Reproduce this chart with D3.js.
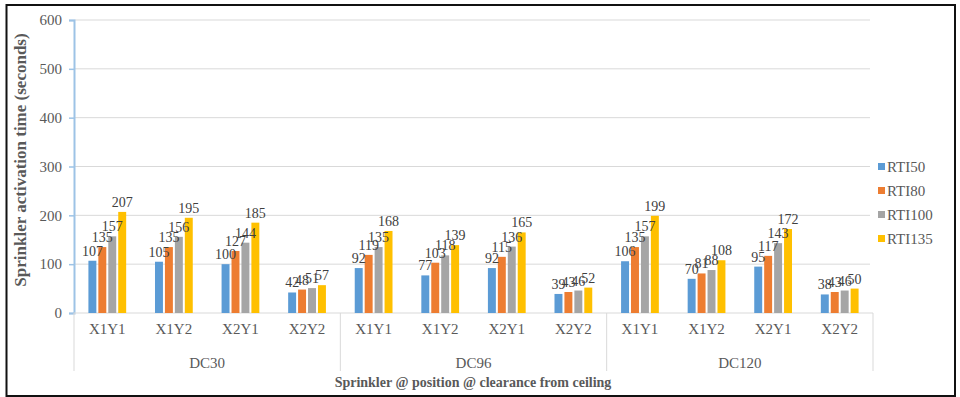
<!DOCTYPE html>
<html>
<head>
<meta charset="utf-8">
<script src="https://cdn.jsdelivr.net/npm/d3@7"></script>
<style>
  html, body { margin: 0; padding: 0; background: #fff; }
  svg { display: block; }
</style>
</head>
<body>
<svg id="chart" width="960" height="397"></svg>
<script>
// Sprinkler activation times grouped by ceiling clearance and sprinkler position
const groups = ["DC30", "DC96", "DC120"];
const positions = ["X1Y1", "X1Y2", "X2Y1", "X2Y2"];
const seriesNames = ["RTI50", "RTI80", "RTI100", "RTI135"];
const seriesColors = ["#5b9bd5", "#ed7d31", "#a5a5a5", "#ffc000"];

// values per series, ordered DC30 (X1Y1..X2Y2), DC96 (...), DC120 (...)
const rti50  = [107, 105, 100, 42,  92,  77,  92, 39, 106,  70,  95, 38];
const rti80  = [135, 135, 127, 48, 119, 103, 115, 43, 135,  81, 117, 43];
const rti100 = [157, 156, 144, 51, 135, 118, 136, 46, 157,  88, 143, 46];
const rti135 = [207, 195, 185, 57, 168, 139, 165, 52, 199, 108, 172, 50];
const yTicks = [0, 100, 200, 300, 400, 500, 600];

const FONT = "'Liberation Serif', 'DejaVu Serif', serif";

const seriesValues = [rti50, rti80, rti100, rti135];
const categories = [];
groups.forEach(g => positions.forEach(p => categories.push(g + "|" + p)));

const svg = d3.select("#chart");

// outer frame
svg.append("rect")
  .attr("x", 6.5).attr("y", 5).attr("width", 948.5).attr("height", 391)
  .attr("fill", "#fff").attr("stroke", "#111").attr("stroke-width", 2);

const plotLeft = 74, plotRight = 873, plotTop = 20, plotBottom = 313;

const x = d3.scaleBand().domain(categories).range([plotLeft, plotRight]).paddingInner(0).paddingOuter(0);
const y = d3.scaleLinear().domain([0, 600]).range([plotBottom, plotTop]);
const inner = d3.scaleBand().domain(seriesNames).range([0, x.bandwidth()]).paddingOuter(1.45).paddingInner(0.2);

// horizontal gridlines
svg.append("g").selectAll("line").data(yTicks.filter(t => t > 0)).join("line")
  .attr("x1", plotLeft).attr("x2", plotRight - 3)
  .attr("y1", d => y(d)).attr("y2", d => y(d))
  .attr("stroke", "#d9d9d9").attr("stroke-width", 1);

// y axis
const yAxis = d3.axisLeft(y).tickValues(yTicks).tickSize(5).tickPadding(7);
const yg = svg.append("g").attr("transform", `translate(${plotLeft},0)`).call(yAxis);
yg.attr("font-family", FONT).attr("font-size", 15);
yg.select(".domain").attr("stroke", "#9dc3e6").attr("stroke-width", 2);
yg.selectAll(".tick line").attr("stroke", "#9dc3e6").attr("stroke-width", 1.5);
yg.selectAll(".tick text")
  .style("font-family", FONT)
  .attr("font-size", 15).attr("fill", "#595959");

// x axis base line
svg.append("line")
  .attr("x1", plotLeft).attr("x2", plotRight).attr("y1", plotBottom).attr("y2", plotBottom)
  .attr("stroke", "#d9d9d9");

// group separators
const groupEdges = [0, 4, 8].map(i => x(categories[i])).concat([plotRight]);
svg.append("g").selectAll("line").data(groupEdges).join("line")
  .attr("x1", d => d).attr("x2", d => d)
  .attr("y1", plotBottom).attr("y2", 371)
  .attr("stroke", "#d9d9d9");

// bars
const barG = svg.append("g");
seriesValues.forEach((vals, si) => {
  barG.append("g").selectAll("rect").data(vals).join("rect")
    .attr("x", (d, i) => x(categories[i]) + inner(seriesNames[si]))
    .attr("y", d => y(d))
    .attr("width", inner.bandwidth())
    .attr("height", d => plotBottom - y(d))
    .attr("fill", seriesColors[si]);
});

// value labels
seriesValues.forEach((vals, si) => {
  barG.append("g").selectAll("text").data(vals).join("text")
    .attr("x", (d, i) => x(categories[i]) + inner(seriesNames[si]) + inner.bandwidth() / 2)
    .attr("y", d => y(d) - 5)
    .attr("text-anchor", "middle")
    .style("font-family", FONT)
    .attr("font-size", 14)
    .attr("fill", "#404040")
    .text(d => d);
});

// category labels
svg.append("g").selectAll("text").data(categories).join("text")
  .attr("x", d => x(d) + x.bandwidth() / 2)
  .attr("y", 334)
  .attr("text-anchor", "middle")
  .style("font-family", FONT)
  .attr("font-size", 15)
  .attr("fill", "#595959")
  .text(d => d.split("|")[1]);

// group labels
svg.append("g").selectAll("text").data(groups).join("text")
  .attr("x", (d, i) => (groupEdges[i] + groupEdges[i + 1]) / 2)
  .attr("y", 368)
  .attr("text-anchor", "middle")
  .style("font-family", FONT)
  .attr("font-size", 15)
  .attr("fill", "#595959")
  .text(d => d);

// axis titles
svg.append("text")
  .attr("x", 473).attr("y", 387)
  .attr("text-anchor", "middle")
  .style("font-family", FONT)
  .attr("font-size", 14).attr("font-weight", "bold").attr("fill", "#595959")
  .text("Sprinkler @ position @ clearance from ceiling");

svg.append("text")
  .attr("transform", `translate(26,160) rotate(-90)`)
  .attr("text-anchor", "middle")
  .style("font-family", FONT)
  .attr("font-size", 17).attr("font-weight", "bold").attr("fill", "#595959")
  .text("Sprinkler activation time (seconds)");

// legend
const legend = svg.append("g").selectAll("g").data(seriesNames).join("g")
  .attr("transform", (d, i) => `translate(878,${167 + i * 24})`);
legend.append("rect")
  .attr("x", 0).attr("y", -4).attr("width", 7).attr("height", 7)
  .attr("fill", (d, i) => seriesColors[i]);
legend.append("text")
  .attr("x", 9).attr("y", 5)
  .style("font-family", FONT)
  .attr("font-size", 15).attr("fill", "#595959")
  .text(d => d);
</script>
</body>
</html>
